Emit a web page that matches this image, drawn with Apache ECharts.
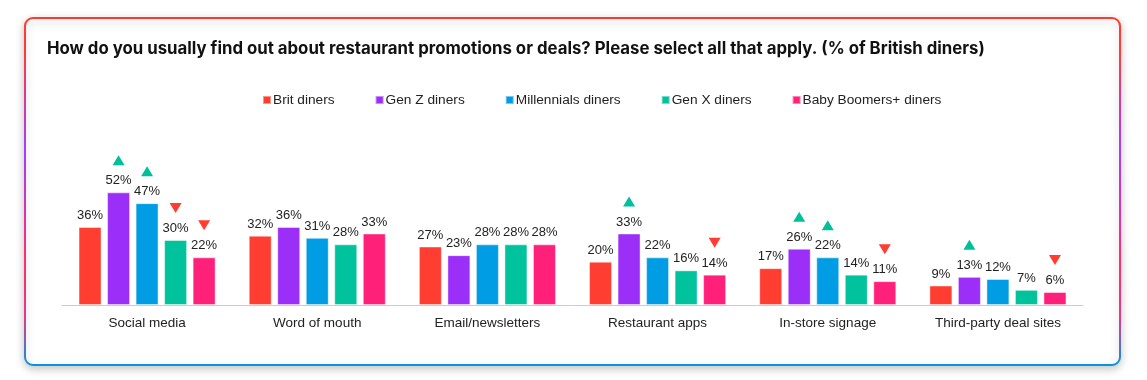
<!DOCTYPE html>
<html>
<head>
<meta charset="utf-8">
<script src="https://cdn.jsdelivr.net/npm/echarts@6/dist/echarts.min.js"></script>
<style>
html,body{margin:0;padding:0;background:#fff;}
#chart{width:1147px;height:380px;}
</style>
</head>
<body>
<div id="chart"></div>
<script>
const titleText = 'How do you usually find out about restaurant promotions or deals? Please select all that apply. (% of British diners)';
const categories = ['Social media', 'Word of mouth', 'Email/newsletters', 'Restaurant apps', 'In-store signage', 'Third-party deal sites'];
const seriesNames = ['Brit diners', 'Gen Z diners', 'Millennials diners', 'Gen X diners', 'Baby Boomers+ diners'];
const britDiners = [36, 32, 27, 20, 17, 9];
const genZDiners = [52, 36, 23, 33, 26, 13];
const millennialsDiners = [47, 31, 28, 22, 22, 12];
const genXDiners = [30, 28, 28, 16, 14, 7];
const boomersDiners = [22, 33, 28, 14, 11, 6];
// significance vs. Brit diners: 1 = higher (up), -1 = lower (down), 0 = none
const britSig = [0, 0, 0, 0, 0, 0];
const genZSig = [1, 0, 0, 1, 1, 1];
const millennialsSig = [1, 0, 0, 0, 1, 0];
const genXSig = [-1, 0, 0, 0, 0, 0];
const boomersSig = [-1, 0, 0, -1, -1, -1];

const colors = ['#FF3D30', '#9B2FF8', '#009DE4', '#00C29D', '#FF2079'];
const values = [britDiners, genZDiners, millennialsDiners, genXDiners, boomersDiners];
const sigs = [britSig, genZSig, millennialsSig, genXSig, boomersSig];

const chart = echarts.init(document.getElementById('chart'));

const series = seriesNames.map((name, i) => {
  const marks = [];
  sigs[i].forEach((s, j) => {
    if (s !== 0) {
      marks.push({
        coord: [categories[j], values[i][j]],
        symbol: 'triangle',
        symbolSize: [12, 10],
        symbolRotate: s > 0 ? 0 : 180,
        symbolOffset: [0, -32],
        itemStyle: { color: s > 0 ? '#00BF9B' : '#FF3D30' },
        label: { show: false }
      });
    }
  });
  return {
    name: name,
    type: 'bar',
    data: values[i],
    barWidth: 23,
    barGap: '24%',
    itemStyle: { color: colors[i], borderColor: 'rgba(255,255,255,0.45)', borderWidth: 1 },
    label: {
      show: true,
      position: 'top',
      distance: 5,
      formatter: '{c}%',
      fontFamily: 'Liberation Sans, Arial, sans-serif',
      fontSize: 13,
      color: '#222'
    },
    markPoint: { data: marks, silent: true, animation: false },
    animation: false
  };
});

chart.setOption({
  animation: false,
  color: colors,
  graphic: [{
    type: 'rect',
    z: -10,
    silent: true,
    shape: { x: 25, y: 18, width: 1095, height: 347, r: 8 },
    style: {
      fill: '#fff',
      lineWidth: 2,
      stroke: {
        type: 'linear', x: 0, y: 0, x2: 0, y2: 1,
        colorStops: [
          { offset: 0, color: '#FF3B30' },
          { offset: 0.1, color: '#FF3B3A' },
          { offset: 0.38, color: '#A53CFF' },
          { offset: 0.7, color: '#FF2D6E' },
          { offset: 0.86, color: '#E03A8A' },
          { offset: 1, color: '#0097E0' }
        ]
      },
      shadowBlur: 8,
      shadowOffsetY: 3,
      shadowColor: 'rgba(0,0,0,0.22)'
    }
  }],
  title: {
    text: titleText,
    left: 42,
    top: 35,
    textStyle: {
      fontFamily: 'Inter, sans-serif',
      fontWeight: 700,
      fontSize: 16.8,
      color: '#111'
    }
  },
  legend: {
    data: seriesNames,
    top: 88,
    left: 257,
    icon: 'rect',
    itemWidth: 8,
    itemHeight: 8,
    itemGap: 40,
    textStyle: {
      fontFamily: 'Liberation Sans, Arial, sans-serif',
      fontSize: 13.7,
      color: '#222',
      padding: [0, 0, 0, -3]
    }
  },
  grid: { left: 62, right: 64, top: 175, bottom: 75, containLabel: false },
  xAxis: {
    type: 'category',
    data: categories,
    axisLine: { lineStyle: { color: '#CCCCCC', width: 1 } },
    axisTick: { show: false },
    axisLabel: {
      margin: 11,
      fontFamily: 'Liberation Sans, Arial, sans-serif',
      fontSize: 13.5,
      color: '#222'
    }
  },
  yAxis: {
    type: 'value',
    min: 0,
    max: 60,
    show: false,
    splitLine: { show: false }
  },
  series: series
});
</script>
</body>
</html>
